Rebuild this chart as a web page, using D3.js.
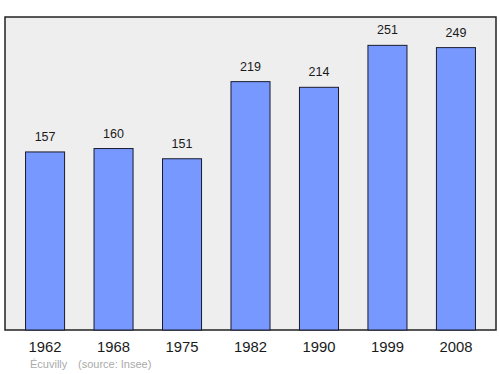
<!DOCTYPE html>
<html><head><meta charset="utf-8">
<script src="https://cdn.jsdelivr.net/npm/d3@7"></script>
<style>body{margin:0;background:#fff}svg{display:block;font-family:"Liberation Sans",Arial,sans-serif}</style>
</head><body>
<svg id="c" width="500" height="374"></svg>
<script>
const years = ["1962","1968","1975","1982","1990","1999","2008"];
const population = [157,160,151,219,214,251,249];
const commune = "Écuvilly";
const source = "(source: Insee)";

(function(){
const svg = d3.select("#c");
const pL = 5, pR = 496, pT = 17, pB = 330;

svg.append("rect").attr("x", pL).attr("y", pT)
  .attr("width", pR - pL).attr("height", pB - pT)
  .attr("fill", "#eeeeee").attr("stroke", "#222").attr("stroke-width", 1.5);

const x = d3.scaleBand().domain(years).range([pL, pR])
  .paddingInner(0.43).paddingOuter(0.3).align(0.5);
const y = d3.scaleLinear().domain([0, 276]).range([pB, pT]);

const data = years.map((yr, i) => ({yr, v: population[i]}));

svg.append("g").selectAll("rect").data(data).join("rect")
  .attr("x", d => x(d.yr)).attr("y", d => y(d.v))
  .attr("width", x.bandwidth()).attr("height", d => pB - y(d.v))
  .attr("fill", "#7799ff").attr("stroke", "#1a1a2e").attr("stroke-width", 1);

svg.append("g").selectAll("text").data(data).join("text")
  .attr("x", d => x(d.yr) + x.bandwidth() / 2).attr("y", d => y(d.v) - 11)
  .attr("text-anchor", "middle").attr("font-size", 12.5).attr("fill", "#1a1a1a")
  .text(d => d.v);

const ax = svg.append("g").attr("transform", `translate(0,${pB})`)
  .call(d3.axisBottom(x).tickSize(0).tickPadding(11.5));
ax.select(".domain").remove();
ax.selectAll("text").attr("font-size", 14.8).attr("fill", "#1a1a1a")
  .attr("font-family", '"Liberation Sans",Arial,sans-serif');

svg.append("text").attr("x", 30).attr("y", 368).attr("font-size", 11)
  .attr("fill", "#aaa").text(commune);
svg.append("text").attr("x", 78).attr("y", 368).attr("font-size", 11)
  .attr("fill", "#aaa").text(source);
})();
</script>
</body></html>
